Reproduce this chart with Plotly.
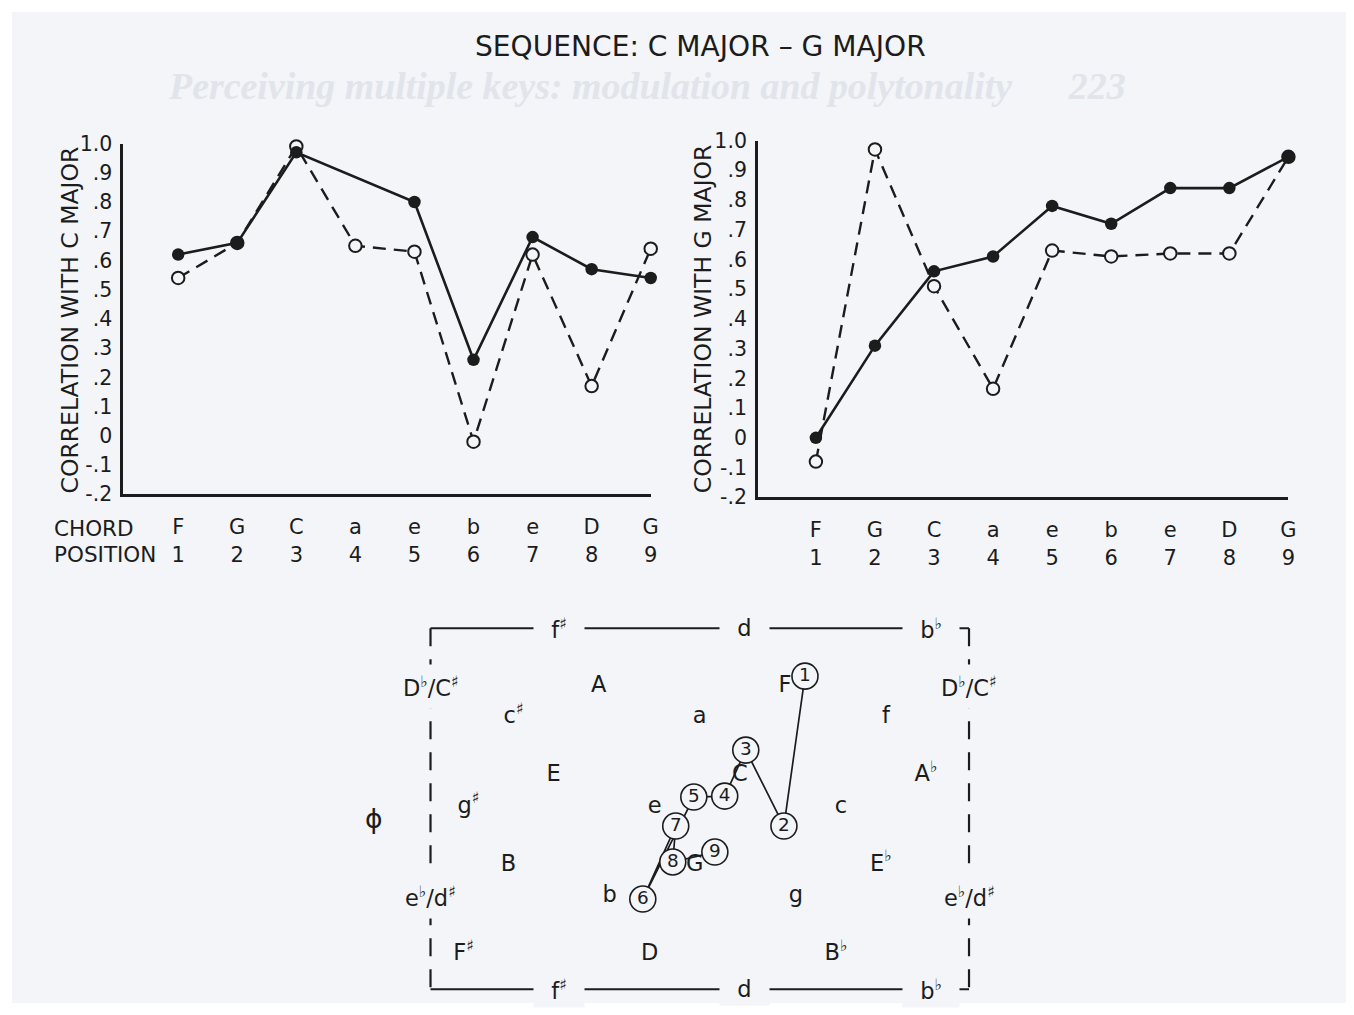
import plotly.graph_objects as go

# ---------------- data ----------------
positions = [1, 2, 3, 4, 5, 6, 7, 8, 9]
chords = ["F", "G", "C", "a", "e", "b", "e", "D", "G"]
position_labels = ["1", "2", "3", "4", "5", "6", "7", "8", "9"]

c_major_solid = [0.62, 0.66, 0.97, None, 0.80, 0.26, 0.68, 0.57, 0.54]
c_major_open = [0.54, 0.66, 0.99, 0.65, 0.63, -0.02, 0.62, 0.17, 0.64]
g_major_solid = [0.00, 0.31, 0.56, 0.61, 0.78, 0.72, 0.84, 0.84, 0.945]
g_major_open = [-0.08, 0.97, 0.51, 0.165, 0.63, 0.61, 0.62, 0.62, 0.945]

y_tick_vals = [-0.2, -0.1, 0.0, 0.1, 0.2, 0.3, 0.4, 0.5, 0.6, 0.7, 0.8, 0.9, 1.0]
y_tick_text = ["-.2", "-.1", "0", ".1", ".2", ".3", ".4", ".5", ".6", ".7", ".8", ".9", "1.0"]

FLAT = "<sup>♭</sup>"
SHARP = "<sup>♯</sup>"

# key map lattice (column = major thirds, row = fifths)
major_keys = ["A", "F", "E", "C", "A" + FLAT, "B", "G", "E" + FLAT, "F" + SHARP, "D", "B" + FLAT]
major_col = [0, 1, 0, 1, 2, 0, 1, 2, 0, 1, 2]
major_row = [0, 0, 1, 1, 1, 2, 2, 2, 3, 3, 3]
minor_keys = ["c" + SHARP, "a", "f", "g" + SHARP, "e", "c", "b", "g"]
minor_col = [0, 1, 2, 0, 1, 2, 1, 2]
minor_row = [1, 1, 1, 2, 2, 2, 3, 3]
edge_tb_keys = ["f" + SHARP, "d", "b" + FLAT]
edge_tb_col = [0, 1, 2]
edge_side_keys = ["D" + FLAT + "/C" + SHARP, "e" + FLAT + "/d" + SHARP]

# sequence path on the key map (map units)
path_labels = ["1", "2", "3", "4", "5", "6", "7", "8", "9"]
path_x = [1.108, 0.995, 0.790, 0.677, 0.511, 0.237, 0.414, 0.398, 0.624]
path_y = [-0.112, 1.564, 0.715, 1.229, 1.240, 2.380, 1.564, 1.966, 1.855]

# ---------------- style ----------------
W, H = 1354, 1015
BG = "#f3f5f8"
INK = "#1c1c1c"
FONT = "DejaVu Sans, sans-serif"

# calibration of the photographed page (picture px = OY + SY * figure px)
SX, SY, OY = 0.993, 0.977, 11.4
FS = 1.0 / SY  # font compensation

SHEAR = -0.242
MINOR_DX, MINOR_DY = -0.215, -0.648
FRAME_L, FRAME_R, FRAME_T, FRAME_B = -0.903, 1.989, -0.648, 3.39
PAD = "\u00a0\u00a0"


def major_xy(c, r):
    return c + SHEAR * r, r


def minor_xy(c, r):
    x, y = major_xy(c, r)
    return x + MINOR_DX, y + MINOR_DY


def px(x):
    return (x / SX) / W


def py(y):
    return 1 - ((y - OY) / SY) / H


def fs(s):
    return round(s * FS, 1)


fig = go.Figure()

# ---- left chart (C major) ----
fig.add_trace(go.Scatter(
    x=positions, y=c_major_open, mode="lines+markers", xaxis="x", yaxis="y",
    line=dict(color=INK, width=2.4, dash="13px,8px"),
    marker=dict(size=12.5, color=BG, line=dict(color=INK, width=2)),
    cliponaxis=False, showlegend=False))
fig.add_trace(go.Scatter(
    x=positions, y=c_major_solid, mode="lines+markers", xaxis="x", yaxis="y",
    connectgaps=True,
    line=dict(color=INK, width=2.6),
    marker=dict(size=12.5, color=INK),
    cliponaxis=False, showlegend=False))

# ---- right chart (G major) ----
fig.add_trace(go.Scatter(
    x=positions, y=g_major_open, mode="lines+markers", xaxis="x2", yaxis="y2",
    line=dict(color=INK, width=2.4, dash="13px,8px"),
    marker=dict(size=12.5, color=BG, line=dict(color=INK, width=2)),
    cliponaxis=False, showlegend=False))
fig.add_trace(go.Scatter(
    x=positions, y=g_major_solid, mode="lines+markers", xaxis="x2", yaxis="y2",
    line=dict(color=INK, width=2.6),
    marker=dict(size=12.5, color=INK),
    cliponaxis=False, showlegend=False))

# ---- key map ----
mx = [major_xy(c, r)[0] for c, r in zip(major_col, major_row)]
my = [major_xy(c, r)[1] for c, r in zip(major_col, major_row)]
nx = [minor_xy(c, r)[0] for c, r in zip(minor_col, minor_row)]
ny = [minor_xy(c, r)[1] for c, r in zip(minor_col, minor_row)]
fig.add_trace(go.Scatter(
    x=mx + nx, y=my + ny, text=major_keys + minor_keys, mode="text",
    xaxis="x3", yaxis="y3", textfont=dict(family=FONT, size=fs(22), color=INK),
    cliponaxis=False, showlegend=False, hoverinfo="skip"))
fig.add_trace(go.Scatter(
    x=path_x, y=path_y, text=path_labels, mode="lines+markers+text",
    xaxis="x3", yaxis="y3",
    line=dict(color=INK, width=1.7),
    marker=dict(size=26, color=BG, line=dict(color=INK, width=1.6)),
    textfont=dict(family=FONT, size=fs(18), color=INK), textposition="middle center",
    cliponaxis=False, showlegend=False))

shapes = []
line_solid = dict(color=INK, width=2)
line_dash = dict(color=INK, width=2.2, dash="18px,13px")
shapes.append(dict(type="rect", xref="paper", yref="paper", x0=px(12), x1=1.0, y0=0, y1=1,
                   fillcolor=BG, line=dict(width=0), layer="below"))
shapes.append(dict(type="line", xref="x3", yref="y3", x0=FRAME_L, x1=FRAME_R, y0=FRAME_T, y1=FRAME_T, line=line_solid))
shapes.append(dict(type="line", xref="x3", yref="y3", x0=FRAME_L, x1=FRAME_R, y0=FRAME_B, y1=FRAME_B, line=line_solid))
shapes.append(dict(type="line", xref="x3", yref="y3", x0=FRAME_L, x1=FRAME_L, y0=FRAME_T, y1=FRAME_B, line=line_dash))
shapes.append(dict(type="line", xref="x3", yref="y3", x0=FRAME_R, x1=FRAME_R, y0=FRAME_T, y1=FRAME_B, line=line_dash))


def ann(text, x, y, xref="paper", yref="paper", size=21, family=FONT, color=INK, **kw):
    d = dict(text=text, x=x, y=y, xref=xref, yref=yref, showarrow=False,
             xanchor=kw.pop("xanchor", "center"), yanchor=kw.pop("yanchor", "middle"),
             font=dict(family=family, size=fs(size), color=color))
    d.update(kw)
    return d


annotations = []
annotations.append(ann("<i><b>Perceiving multiple keys: modulation and polytonality      223</b></i>",
                       px(646), py(85), size=37, family="Liberation Serif, serif", color="#e1e4ea"))
annotations.append(ann("SEQUENCE: C MAJOR – G MAJOR", px(700), py(46), size=27.5))
annotations.append(ann("CORRELATION WITH C MAJOR", px(70), py(320), size=23, textangle=-90))
annotations.append(ann("CORRELATION WITH G MAJOR", px(703), py(318), size=23, textangle=-90))
annotations.append(ann("CHORD", px(52), py(528), xanchor="left"))
annotations.append(ann("POSITION", px(52), py(554), xanchor="left"))

# key map edge labels (interrupting frame lines)
for k, c in zip(edge_tb_keys, edge_tb_col):
    ex = minor_xy(c, 0)[0]
    for ey in (FRAME_T, FRAME_B):
        annotations.append(ann(PAD + k + PAD, ex, ey, "x3", "y3", size=22, bgcolor=BG, borderpad=3))
side_y = [major_xy(0, 0)[1], minor_xy(0, 3)[1]]
for k, sy in zip(edge_side_keys, side_y):
    for sx in (FRAME_L, FRAME_R):
        annotations.append(ann(k, sx, sy, "x3", "y3", size=22, bgcolor=BG, borderpad=7))
annotations.append(ann("ϕ", -1.204, 1.475, "x3", "y3", size=26))

ax_common = dict(showgrid=False, zeroline=False, showline=True, linecolor=INK, linewidth=2.5)
x_tick_text = [f"{c}<br>{p}" for c, p in zip(chords, position_labels)]
xtick_common = dict(tickvals=positions, ticktext=x_tick_text, ticks="",
                    tickfont=dict(family=FONT, size=fs(20.5), color=INK))
ytick_font = dict(family=FONT, size=fs(20), color=INK)

fig.update_layout(
    width=W, height=H, autosize=False,
    margin=dict(l=0, r=0, t=0, b=0),
    paper_bgcolor="white", plot_bgcolor="rgba(0,0,0,0)",
    showlegend=False,
    xaxis=dict(domain=[px(123), px(650)], range=[0.068, 9.0], ticklabelstandoff=12,
               anchor="y", **xtick_common, **ax_common),
    yaxis=dict(domain=[py(494), py(143)], range=[-0.2, 1.0], tickvals=y_tick_vals, ticktext=y_tick_text,
               ticks="", ticklabelstandoff=4, tickfont=ytick_font, anchor="x", **ax_common),
    xaxis2=dict(domain=[px(757), px(1287)], range=[0.017, 9.0], ticklabelstandoff=12,
                anchor="y2", **xtick_common, **ax_common),
    yaxis2=dict(domain=[py(497), py(140)], range=[-0.2, 1.0], tickvals=y_tick_vals, ticktext=y_tick_text,
                ticks="", ticklabelstandoff=4, tickfont=ytick_font, anchor="x2", **ax_common),
    xaxis3=dict(domain=[px(330), px(1030)], range=[(330 - 598) / 186, (1030 - 598) / 186], visible=False,
                anchor="y3"),
    yaxis3=dict(domain=[py(1000), py(600)], range=[(1000 - 686) / 89.5, (600 - 686) / 89.5], visible=False,
                anchor="x3"),
    shapes=shapes,
    annotations=annotations,
)

css_fix = (
    "document.documentElement.style.margin='0';document.documentElement.style.padding='0';"
    "document.documentElement.style.overflow='hidden';"
    "document.body.style.margin='0';document.body.style.padding='0';document.body.style.overflow='hidden';"
    "window.scrollTo(0,0);"
)
fig.write_html("out.html", config={"displayModeBar": False, "responsive": False}, post_script=css_fix)
